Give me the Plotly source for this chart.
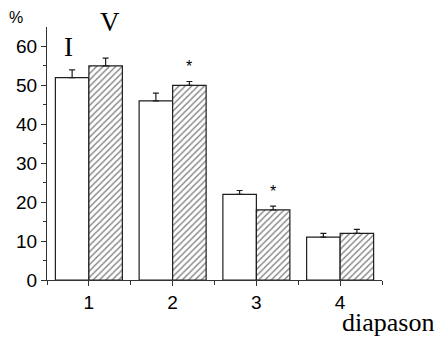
import plotly.graph_objects as go

# Share (%) for each diapason, two groups: I (open bars) and V (hatched bars)
categories = [1, 2, 3, 4]
values_I = [52, 46, 22, 11]
errors_I = [2, 2, 1, 1]
values_V = [55, 50, 18, 12]
errors_V = [2, 1, 1, 1]
significant_V = [False, True, True, False]
y_ticks = [0, 10, 20, 30, 40, 50, 60]

edge = "#1e1e1e"

fig = go.Figure()
fig.add_trace(go.Bar(
    x=categories, y=values_I, name="I",
    marker=dict(color="white", line=dict(color=edge, width=1.2)),
    error_y=dict(type="data", symmetric=False, array=errors_I,
                 arrayminus=[0] * len(errors_I),
                 color=edge, thickness=1.2, width=3),
))
fig.add_trace(go.Bar(
    x=categories, y=values_V, name="V",
    marker=dict(color="white", line=dict(color=edge, width=1.2),
                pattern=dict(shape="/", fgcolor="#000000", bgcolor="white",
                             size=4.5, solidity=0.3)),
    error_y=dict(type="data", symmetric=False, array=errors_V,
                 arrayminus=[0] * len(errors_V),
                 color=edge, thickness=1.2, width=3),
))

W, H = 437, 340
ml, mr, mt, mb = 47, 55, 27, 60
pw, ph = W - ml - mr, H - mt - mb


def px_label(x, y, text, family, size):
    """Label placed by pixel position, centred on that point."""
    return dict(x=(x - ml) / pw, y=1 - (y - mt) / ph,
                xref="paper", yref="paper", xanchor="center",
                yanchor="middle", text=text, showarrow=False,
                font=dict(family=family, size=size, color="black"))


annotations = []
# asterisks over significantly different V bars
for c, v, e, s in zip(categories, values_V, errors_V, significant_V):
    if s:
        annotations.append(dict(x=c + 0.2, y=v + e, xref="x", yref="y",
                                text="*", showarrow=False, yanchor="bottom",
                                xanchor="center", yshift=4,
                                font=dict(family="Liberation Sans", size=16,
                                          color="black")))
serif = "Liberation Serif"
annotations += [
    px_label(68, 47, "I", serif, 27),
    px_label(110, 22, "V", serif, 27),
    px_label(16, 17, "%", "Liberation Sans", 16),
    px_label(388, 322, "diapason", serif, 26),
]

fig.update_layout(
    width=W, height=H,
    margin=dict(l=ml, r=mr, t=mt, b=mb),
    paper_bgcolor="white", plot_bgcolor="white",
    barmode="group", bargap=0.2, bargroupgap=0,
    showlegend=False,
    annotations=annotations,
    xaxis=dict(range=[0.5, 4.5], tickvals=categories, ticks="outside",
               ticklen=5, tickwidth=1, tickcolor="#333",
               showline=True, linecolor="#333", linewidth=1,
               showgrid=False, zeroline=False,
               minor=dict(tickvals=[0.5, 1.5, 2.5, 3.5, 4.5], ticks="outside",
                          ticklen=4, tickcolor="#333"),
               tickfont=dict(family="Liberation Sans", size=19, color="black")),
    yaxis=dict(range=[0, 65], tickvals=y_ticks, ticks="outside",
               ticklen=5, tickwidth=1, tickcolor="#333",
               showline=True, linecolor="#333", linewidth=1,
               showgrid=False, zeroline=False,
               minor=dict(tickvals=[5, 15, 25, 35, 45, 55], ticks="outside",
                          ticklen=3, tickcolor="#333"),
               tickfont=dict(family="Liberation Sans", size=19, color="black")),
)

fig.write_html("out.html")
